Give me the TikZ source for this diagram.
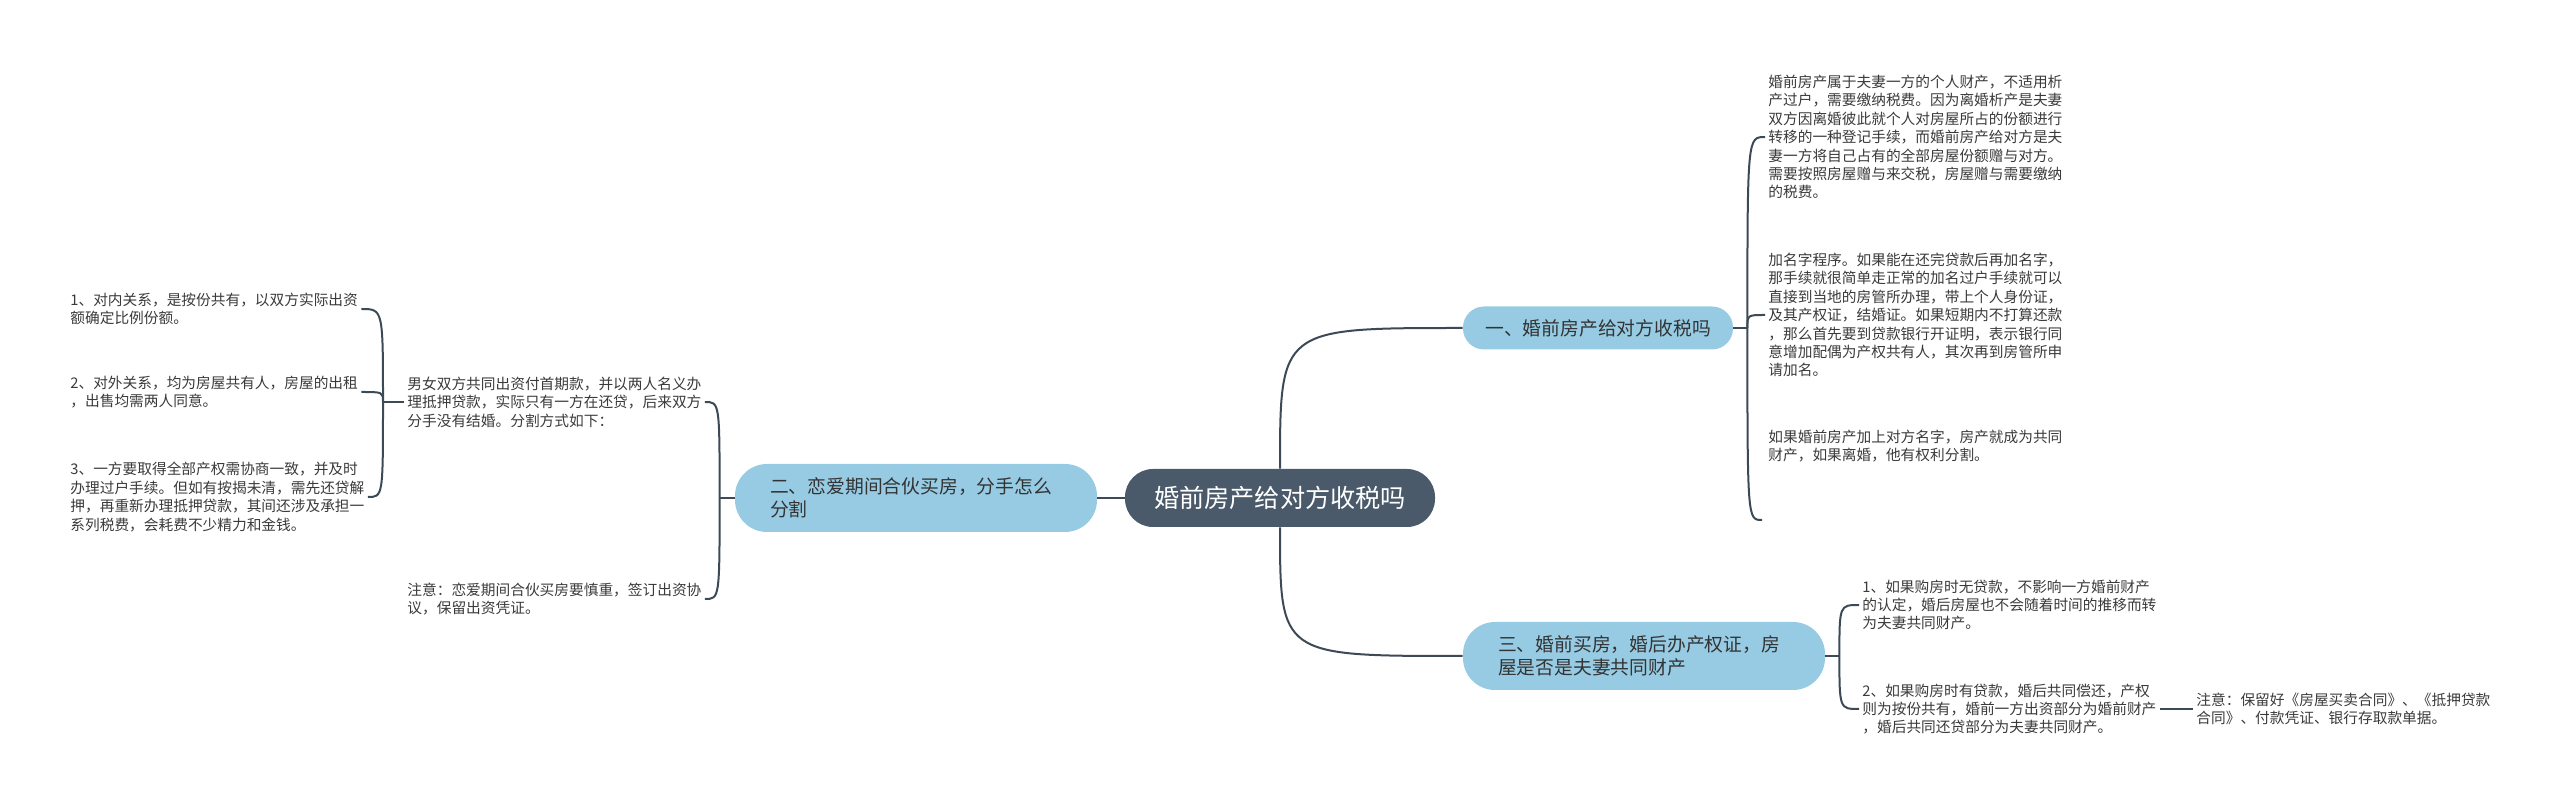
\documentclass[tikz,border=0pt]{standalone}
\usepackage{fontspec}
\newfontfamily\cjk{Noto Sans CJK SC}
\definecolor{rootfill}{HTML}{4A5A6A}
\definecolor{branchfill}{HTML}{97CBE3}
\definecolor{linkcolor}{HTML}{3C4A58}
\definecolor{leaftext}{HTML}{3A3A3A}
\begin{document}
\begin{tikzpicture}[x=0.5pt, y=-0.5pt,
link/.style = {draw={linkcolor}, line width=1pt},
root/.style = {fill={rootfill}, text=white, rounded corners=14pt, minimum width=155pt, minimum height=29pt, inner sep=0pt, font=\cjk\fontsize{12.6}{15}\selectfont},
branch/.style = {fill={branchfill}, text={black!80}, rounded corners=10.5pt, minimum width=135pt, minimum height=21.5pt, inner sep=0pt, font=\cjk\fontsize{9.4}{11.5}\selectfont},
wide-branch/.style = {branch, rounded corners=16pt, minimum width=181pt, minimum height=34pt, text width=146pt, align=left},
leaf/.style = {text={leaftext}, inner sep=1.5pt, align=left, anchor=west, font=\cjk\fontsize{7.35}{9.2}\selectfont}
]
\useasboundingbox (0,0) rectangle (2560,806);
\node[root] (root) at (1280,498) {婚前房产给对方收税吗};
\node[branch] (b1) at (1598,328) {一、婚前房产给对方收税吗};
\node[wide-branch] (b2) at (916,498) {二、恋爱期间合伙买房，分手怎么\\分割};
\node[wide-branch] (b3) at (1644,656) {三、婚前买房，婚后办产权证，房\\屋是否是夫妻共同财产};

\node[leaf] (b1a) at (1765,137) {婚前房产属于夫妻一方的个人财产，不适用析\\产过户，需要缴纳税费。因为离婚析产是夫妻\\双方因离婚彼此就个人对房屋所占的份额进行\\转移的一种登记手续，而婚前房产给对方是夫\\妻一方将自己占有的全部房屋份额赠与对方。\\需要按照房屋赠与来交税，房屋赠与需要缴纳\\的税费。};
\node[leaf] (b1b) at (1765,315) {加名字程序。如果能在还完贷款后再加名字，\\那手续就很简单走正常的加名过户手续就可以\\直接到当地的房管所办理，带上个人身份证，\\及其产权证，结婚证。如果短期内不打算还款\\，那么首先要到贷款银行开证明，表示银行同\\意增加配偶为产权共有人，其次再到房管所申\\请加名。};
\node[leaf] (b1c) at (1765,446) {如果婚前房产加上对方名字，房产就成为共同\\财产，如果离婚，他有权利分割。};
\coordinate (b1c-end) at (1762,520);

\node[leaf] (b3a) at (1859,605) {1、如果购房时无贷款，不影响一方婚前财产\\的认定，婚后房屋也不会随着时间的推移而转\\为夫妻共同财产。};
\node[leaf] (b3b) at (1859,709) {2、如果购房时有贷款，婚后共同偿还，产权\\则为按份共有，婚前一方出资部分为婚前财产\\，婚后共同还贷部分为夫妻共同财产。};
\node[leaf] (b3note) at (2193,709) {注意：保留好《房屋买卖合同》、《抵押贷款\\合同》、付款凭证、银行存取款单据。};

\node[leaf] (b2a) at (404,402) {男女双方共同出资付首期款，并以两人名义办\\理抵押贷款，实际只有一方在还贷，后来双方\\分手没有结婚。分割方式如下：};
\node[leaf] (b2b) at (404,599) {注意：恋爱期间合伙买房要慎重，签订出资协\\议，保留出资凭证。};
\node[leaf] (g1) at (67,309) {1、对内关系，是按份共有，以双方实际出资\\额确定比例份额。};
\node[leaf] (g2) at (67,392) {2、对外关系，均为房屋共有人，房屋的出租\\，出售均需两人同意。};
\node[leaf] (g3) at (67,497) {3、一方要取得全部产权需协商一致，并及时\\办理过户手续。但如有按揭未清，需先还贷解\\押，再重新办理抵押贷款，其间还涉及承担一\\系列税费，会耗费不少精力和金钱。};

\draw[link] (root.west) -- (b2.east);
\draw[link] (root.north) .. controls (root.north |- b1.west) .. (b1.west);
\draw[link] (root.south) .. controls (root.south |- b3.west) .. (b3.west);

\draw[link] (b1.east) -- ++(14,0) coordinate (b1j);
\draw[link] (b1j) .. controls (b1j |- b1a.west) .. (b1a.west);
\draw[link] (b1j) .. controls (b1j |- b1b.west) .. (b1b.west);
\draw[link] (b1j) .. controls (b1j |- b1c-end) .. (b1c-end);

\draw[link] (b3.east) -- ++(14,0) coordinate (b3j);
\draw[link] (b3j) .. controls (b3j |- b3a.west) .. (b3a.west);
\draw[link] (b3j) .. controls (b3j |- b3b.west) .. (b3b.west);
\draw[link] (b3b.east) -- (b3note.west);

\draw[link] (b2.west) -- ++(-15,0) coordinate (b2j);
\draw[link] (b2j) .. controls (b2j |- b2a.east) .. (b2a.east);
\draw[link] (b2j) .. controls (b2j |- b2b.east) .. (b2b.east);

\draw[link] (b2a.west) -- ++(-21,0) coordinate (b2aj);
\draw[link] (b2aj) .. controls (b2aj |- g1.east) .. (g1.east);
\draw[link] (b2aj) .. controls (b2aj |- g2.east) .. (g2.east);
\draw[link] (b2aj) .. controls (b2aj |- g3.east) .. (g3.east);
\end{tikzpicture}
\end{document}
